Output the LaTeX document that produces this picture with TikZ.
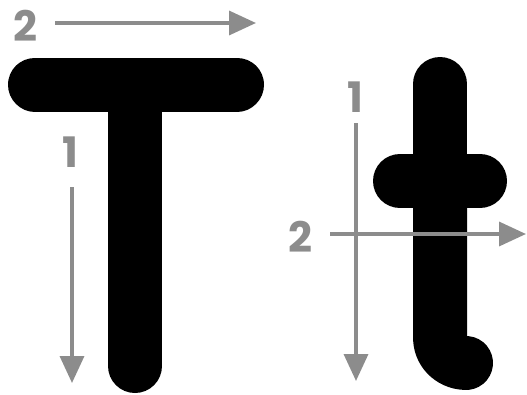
\documentclass[tikz,border=0pt]{standalone}
\usepackage{fontspec}
\newfontfamily\digitfont{Poppins}
\usetikzlibrary{arrows.meta}
\definecolor{guide}{RGB}{140,140,140}
\tikzset{
  stroke/.style={line width=54pt, line cap=round, black},
  guidearrow/.style={guide, line width=3.5pt, -{Triangle[length=27pt,width=24pt]}, shorten >=0pt},
  digit/.style={text=guide, font=\digitfont\bfseries\fontsize{42}{42}\selectfont, inner sep=0pt}
}
\begin{document}
\begin{tikzpicture}[x=1pt,y=-1pt]
\useasboundingbox (0,0) rectangle (527,394);
% letter T
\draw[stroke] (35,84.5) -- (237,84.5);
\draw[stroke, line cap=butt] (135,84.5) -- (135,366);
\draw[stroke] (135,200) -- (135,366);
% letter t
\draw[stroke] (440,84) -- (440,181);
\draw[stroke] (400,181) -- (480,181);
\draw[stroke, line join=round] (440,181) -- (440,338) to[out=90+180,in=180] (466,363);
% guide labels
\node[digit] (t2) at (25,26) {2};
\node[digit] (t1) at (70,152) {1};
\node[digit] (s1) at (355,97) {1};
\node[digit] (s2) at (300,237) {2};
% guide arrows
\coordinate (t2a) at (55,23);   \coordinate (t2b) at (256,23);
\coordinate (t1a) at (72,187);  \coordinate (t1b) at (72,383);
\coordinate (s1a) at (356,123); \coordinate (s1b) at (356,381);
\coordinate (s2a) at (330,234); \coordinate (s2b) at (526,234);
\draw[guidearrow] (t2a) -- (t2b);
\draw[guidearrow] (t1a) -- (t1b);
\draw[guidearrow] (s1a) -- (s1b);
\draw[guidearrow] (s2a) -- (s2b);
\end{tikzpicture}
\end{document}
